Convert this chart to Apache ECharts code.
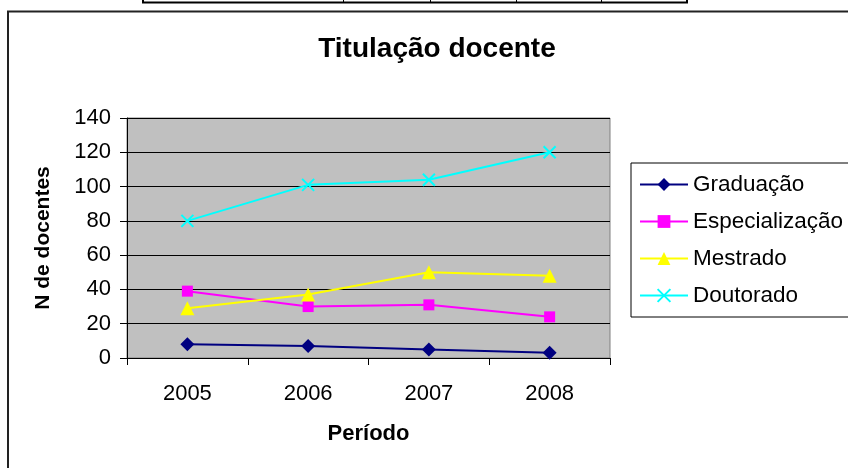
<!DOCTYPE html>
<html>
<head>
<meta charset="utf-8">
<script src="https://cdn.jsdelivr.net/npm/echarts@6/dist/echarts.min.js"></script>
<style>
  html, body { margin: 0; padding: 0; background: #fff; }
  #chart { width: 848px; height: 468px; }
</style>
</head>
<body>
<div id="chart"></div>
<script>
// Titulação docente - linhas por período
const periodos = ['2005', '2006', '2007', '2008'];
const graduacao = [8, 7, 5, 3];
const especializacao = [39, 30, 31, 24];
const mestrado = [29, 37, 50, 48];
const doutorado = [80, 101, 104, 120];
const yTicks = { min: 0, max: 140, interval: 20 };

const fonte = '"Liberation Sans", Arial, sans-serif';

function serie(nome, dados, cor, simbolo, tamanho, extra) {
    return Object.assign({
        name: nome,
        type: 'line',
        data: dados,
        symbol: simbolo,
        symbolSize: tamanho,
        lineStyle: { color: cor, width: 2 },
        itemStyle: { color: cor },
        emphasis: { disabled: true },
        z: 3
    }, extra || {});
}

const chart = echarts.init(document.getElementById('chart'));

const option = {
    backgroundColor: '#ffffff',
    animation: false,
    textStyle: { fontFamily: fonte, color: '#000' },
    title: {
        text: 'Titulação docente',
        left: 432,
        top: 30,
        textAlign: 'center',
        textStyle: { fontFamily: fonte, fontSize: 28, fontWeight: 'bold', color: '#000' }
    },
    legend: {
        orient: 'vertical',
        left: 631,
        top: 163,
        padding: [10, 20, 10, 8],
        itemWidth: 48,
        itemHeight: 16,
        itemGap: 14,
        borderColor: '#000',
        borderWidth: 1,
        textStyle: { fontFamily: fonte, fontSize: 22.5, color: '#000' },
        data: ['Graduação', 'Especialização', 'Mestrado', 'Doutorado']
    },
    grid: {
        left: 127,
        right: 238,
        top: 118,
        bottom: 110,
        show: true,
        backgroundColor: '#c0c0c0',
        borderColor: '#808080',
        borderWidth: 1
    },
    xAxis: {
        type: 'category',
        data: periodos,
        boundaryGap: true,
        name: 'Período',
        nameLocation: 'middle',
        nameGap: 65,
        nameTextStyle: { fontFamily: fonte, fontSize: 22, fontWeight: 'bold', color: '#000' },
        axisLine: { lineStyle: { color: '#000', width: 1 } },
        axisTick: { show: true, length: 7, inside: false, lineStyle: { color: '#000' } },
        axisLabel: { fontFamily: fonte, fontSize: 22, color: '#000', margin: 25 },
        splitLine: { show: false }
    },
    yAxis: {
        type: 'value',
        min: yTicks.min,
        max: yTicks.max,
        interval: yTicks.interval,
        name: 'N de docentes',
        nameLocation: 'middle',
        nameGap: 73,
        nameRotate: 90,
        nameTextStyle: { fontFamily: fonte, fontSize: 21, fontWeight: 'bold', color: '#000' },
        axisLine: { show: true, lineStyle: { color: '#000', width: 1 } },
        axisTick: { show: true, length: 7, lineStyle: { color: '#000' } },
        axisLabel: { fontFamily: fonte, fontSize: 22, color: '#000', margin: 16 },
        splitLine: { show: true, lineStyle: { color: '#000', width: 1 } }
    },
    series: [
        serie('Graduação', graduacao, '#000080', 'diamond', 14),
        serie('Especialização', especializacao, '#ff00ff', 'rect', 11),
        serie('Mestrado', mestrado, '#ffff00', 'triangle', 14),
        serie('Doutorado', doutorado, '#00ffff', 'path://M0,0L10,10M10,0L0,10', 12, {
            itemStyle: { color: 'none', borderColor: '#00ffff', borderWidth: 2 }
        })
    ],
    graphic: [
        // moldura do gráfico
        {
            type: 'rect',
            shape: { x: 8, y: 11.5, width: 900, height: 500 },
            style: { fill: 'none', stroke: '#222', lineWidth: 2 },
            silent: true
        },
        // fragmento da tabela acima
        {
            type: 'polyline',
            shape: { points: [[143, 0], [143, 2.5], [687, 2.5], [687, 0]] },
            style: { fill: 'none', stroke: '#000', lineWidth: 2 },
            silent: true
        },
        { type: 'line', shape: { x1: 343.5, y1: 0, x2: 343.5, y2: 2 }, style: { stroke: '#000', lineWidth: 1 }, silent: true },
        { type: 'line', shape: { x1: 430.5, y1: 0, x2: 430.5, y2: 2 }, style: { stroke: '#000', lineWidth: 1 }, silent: true },
        { type: 'line', shape: { x1: 516.5, y1: 0, x2: 516.5, y2: 2 }, style: { stroke: '#000', lineWidth: 1 }, silent: true },
        { type: 'line', shape: { x1: 601.5, y1: 0, x2: 601.5, y2: 2 }, style: { stroke: '#000', lineWidth: 1 }, silent: true }
    ]
};

chart.setOption(option);
</script>
</body>
</html>
